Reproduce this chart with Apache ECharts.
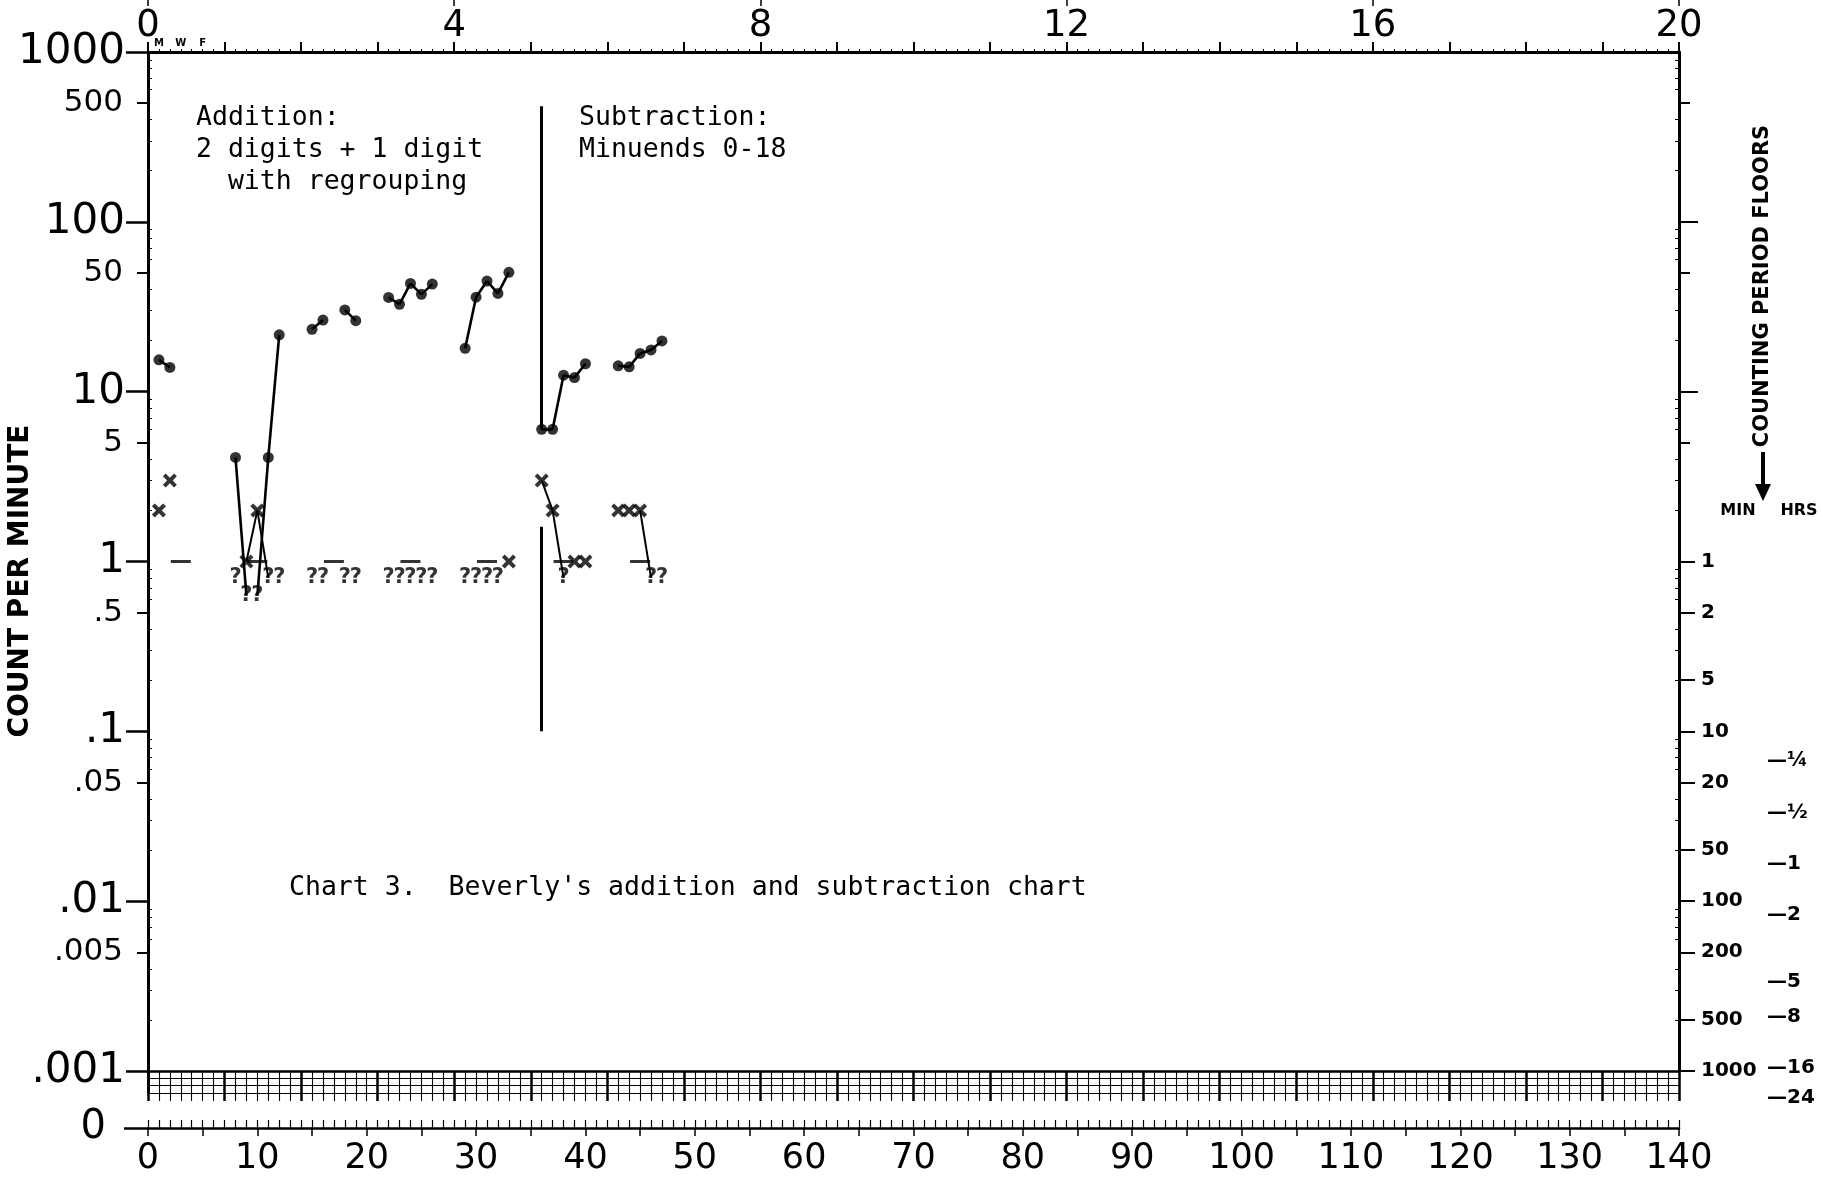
<!DOCTYPE html>
<html><head><meta charset="utf-8">
<script src="https://cdn.jsdelivr.net/npm/echarts@6/dist/echarts.min.js"></script>
<style>html,body{margin:0;padding:0;background:#fff}#c{width:1823px;height:1184px}</style>
</head><body><div id="c"></div><script>
// ---------- DATA ----------
const addDays    = [1, 2, 8, 9, 10, 11, 12, 15, 16, 18, 19, 22, 23, 24, 25, 26, 29, 30, 31, 32, 33];
const addCorrect = [15.4, 13.9, 4.1, 0, 0, 4.1, 21.6, 23.3, 26.4, 30.3, 26.2, 35.9, 32.7, 43.4, 37.4, 43, 18, 36, 44.8, 37.9, 50.4];
const addError   = [2, 3, 0, 1, 2, 0, 0, 0, 0, 0, 0, 0, 0, 0, 0, 0, 0, 0, 0, 0, 1];
const subDays    = [36, 37, 38, 39, 40, 43, 44, 45, 46, 47];
const subCorrect = [6, 6, 12.5, 12.1, 14.6, 14.2, 14, 16.8, 17.6, 19.9];
const subError   = [3, 2, 0, 1, 1, 2, 2, 2, 0, 0];
const errorLinks = [[9, 10], [10, 11], [36, 37], [37, 38], [45, 46]];
const floorDays  = [3, 10, 17, 24, 31, 38, 45];
const floorCount = 1;
const zeroMarkCorrect = 0.63;   // where "?" (zero corrects) is written
const zeroMarkError   = 0.8;    // where "?" (zero errors) is written
const phaseDay   = 36;
const phaseSpans = [[0.1, 1.6], [6, 480]];

// tick labels
const countDecades = [1000, 100, 10, 1, 0.1, 0.01, 0.001];
const countFives   = [500, 50, 5, 0.5, 0.05, 0.005];
const floorMinutes = [1, 2, 5, 10, 20, 50, 100, 200, 500, 1000];
const hourLabels   = ['¼', '½', '1', '2', '5', '8', '16', '24'];
const hourValues   = [0.25, 0.5, 1, 2, 5, 8, 16, 24];
const weekLabels   = [0, 4, 8, 12, 16, 20];
const dayLabels    = [0, 10, 20, 30, 40, 50, 60, 70, 80, 90, 100, 110, 120, 130, 140];
const weekdayDays  = [1, 3, 5];
const weekdayText  = ['M', 'W', 'F'];

// ---------- LAYOUT ----------
const L = 148, R = 1679, T = 52, B = 1071;
const decadePx = (B - T) / 6;
const FONT = 'DejaVu Sans';
const MONO = 'DejaVu Sans Mono';
const K = '#000';

const minorVals = [];
[0.001, 0.01, 0.1, 1, 10, 100].forEach(d => [2, 3, 4, 6, 7, 8, 9].forEach(k => minorVals.push(Math.log10(k * d))));

function fmtCount(v) {
  const n = Number(Math.pow(10, v).toPrecision(1));
  return n >= 1 ? String(n) : String(n).replace(/^0/, '');
}
function ovY(grid, pos, min, max, values, tick, label, lineW) {
  return {
    type: 'value', gridIndex: grid, position: pos, min: min, max: max,
    axisLine: { show: !!lineW, onZero: false, lineStyle: { color: K, width: lineW || 1 } },
    axisTick: { show: !!tick, customValues: values, length: tick ? tick.length : 0, inside: !!(tick && tick.inside),
      lineStyle: { color: K, width: tick ? tick.width : 1 } },
    axisLabel: label ? Object.assign({ show: true, customValues: values, color: K, fontFamily: FONT }, label) : { show: false },
    splitLine: { show: false }
  };
}

// ---------- build marks ----------
const allCorrect = addDays.map((d, i) => [d, addCorrect[i]]).concat(subDays.map((d, i) => [d, subCorrect[i]]));
const allError = addDays.map((d, i) => [d, addError[i]]).concat(subDays.map((d, i) => [d, subError[i]]));
const corrPts = allCorrect.filter(p => p[1] > 0);
const corrZeros = allCorrect.filter(p => p[1] === 0).map(p => [p[0], zeroMarkCorrect]);
const errPts = allError.filter(p => p[1] > 0);
const errZeros = allError.filter(p => p[1] === 0).map(p => [p[0], zeroMarkError]);

const corrLinkData = [];
for (let i = 0; i < allCorrect.length - 1; i++) {
  const a = allCorrect[i], b = allCorrect[i + 1];
  if (b[0] - a[0] === 1 && !(a[1] === 0 && b[1] === 0)) {
    corrLinkData.push({ coords: [[a[0], a[1] || zeroMarkCorrect], [b[0], b[1] || zeroMarkCorrect]] });
  }
}
const errByDay = {}; allError.forEach(p => errByDay[p[0]] = p[1]);
const errLinkData = errorLinks.map(([a, b]) => ({ coords: [[a, errByDay[a] || zeroMarkError], [b, errByDay[b] || zeroMarkError]] }));
const phaseData = phaseSpans.map(s => ({ coords: [[phaseDay, s[0]], [phaseDay, s[1]]] }));
const floorPts = floorDays.map(d => [d, floorCount]);

const X_PATH = 'path://M2,0 L5,3 L8,0 L10,2 L7,5 L10,8 L8,10 L5,7 L2,10 L0,8 L3,5 L0,2 Z';
const qLabel = { show: true, formatter: '?', position: 'inside', fontSize: 21, fontWeight: 'bold', color: K, fontFamily: FONT };

const chart = echarts.init(document.getElementById('c'), null, { renderer: 'canvas' });
chart.setOption({
  animation: false,
  backgroundColor: '#fff',
  grid: [
    { left: L, top: T, width: R - L, height: B - T, containLabel: false, outerBoundsMode: 'none' },
    { left: L, top: T, width: R - L, height: decadePx * 6.5, containLabel: false, outerBoundsMode: 'none' },
    { left: L, top: B, width: R - L, height: 22, containLabel: false, outerBoundsMode: 'none' },
    { left: L, top: 1128, width: R - L, height: 1, containLabel: false, outerBoundsMode: 'none' }
  ],
  xAxis: [
    // 0: days (data) - the .001 line
    { type: 'value', gridIndex: 0, position: 'bottom', min: 0, max: 140,
      axisLine: { show: true, onZero: false, lineStyle: { color: K, width: 2.5 } },
      axisTick: { show: false }, axisLabel: { show: false }, splitLine: { show: false } },
    // 1: weeks on top
    { type: 'value', gridIndex: 0, position: 'top', min: 0, max: 20, interval: 1,
      axisLine: { show: true, onZero: false, lineStyle: { color: K, width: 3 } },
      axisTick: { show: true, length: 10, lineStyle: { color: K, width: 2 } },
      minorTick: { show: true, splitNumber: 7, length: 3, lineStyle: { color: K, width: 1 } },
      axisLabel: { show: true, customValues: weekLabels, fontSize: 37, fontFamily: FONT, color: K, margin: 7 },
      splitLine: { show: false } },
    // 2: small marks at very top
    { type: 'value', gridIndex: 0, position: 'top', offset: 46, min: 0, max: 20,
      axisLine: { show: false, onZero: false },
      axisTick: { show: true, customValues: weekLabels, length: 6, lineStyle: { color: K, width: 1.5 } },
      axisLabel: { show: false }, splitLine: { show: false } },
    // 3: M W F
    { type: 'value', gridIndex: 0, position: 'top', min: 0, max: 140,
      axisLine: { show: false, onZero: false }, axisTick: { show: false },
      axisLabel: { show: true, customValues: weekdayDays, margin: 4, fontSize: 10, fontWeight: 'bold', fontFamily: FONT, color: K,
        formatter: v => weekdayText[weekdayDays.indexOf(Math.round(v))] || '' },
      splitLine: { show: false } },
    // 4: hidden for extended grid
    { type: 'value', gridIndex: 1, min: 0, max: 140, show: false, axisLine: { onZero: false } },
    // 5: band daily grid
    { type: 'value', gridIndex: 2, position: 'bottom', min: 0, max: 140, interval: 1,
      axisLine: { show: false, onZero: false },
      axisTick: { show: true, length: 8, lineStyle: { color: K, width: 1.1 } },
      axisLabel: { show: false },
      splitLine: { show: true, lineStyle: { color: K, width: 1.1 } } },
    // 6: band weekly heavy lines
    { type: 'value', gridIndex: 2, position: 'bottom', min: 0, max: 140, interval: 7,
      axisLine: { show: false, onZero: false },
      axisTick: { show: true, length: 8, lineStyle: { color: K, width: 2.5 } },
      axisLabel: { show: false },
      splitLine: { show: true, lineStyle: { color: K, width: 2.5 } } },
    // 7: zero line with daily ticks upward
    { type: 'value', gridIndex: 3, position: 'top', min: 0, max: 140, interval: 1,
      axisLine: { show: true, onZero: false, lineStyle: { color: K, width: 2.5 } },
      axisTick: { show: true, length: 8, lineStyle: { color: K, width: 1.2 } },
      axisLabel: { show: false }, splitLine: { show: false } },
    // 8: day labels
    { type: 'value', gridIndex: 3, position: 'bottom', min: 0, max: 140, interval: 5,
      axisLine: { show: false, onZero: false },
      axisTick: { show: true, length: 7, lineStyle: { color: K, width: 1.5 } },
      axisLabel: { show: true, customValues: dayLabels, fontSize: 35, fontFamily: FONT, color: K, margin: 12 },
      splitLine: { show: false } }
  ],
  yAxis: [
    // 0: data axis
    { type: 'log', logBase: 10, gridIndex: 0, position: 'left', min: 0.001, max: 1000,
      axisLine: { show: true, onZero: false, lineStyle: { color: K, width: 3 } },
      axisTick: { show: false }, axisLabel: { show: false }, splitLine: { show: false } },
    // 1: decades
    ovY(0, 'left', -3, 3, countDecades.map(Math.log10), { length: 22, width: 2.5 },
      { fontSize: 42, margin: 23, formatter: fmtCount }),
    // 2: fives
    ovY(0, 'left', -3, 3, countFives.map(Math.log10), { length: 11, width: 2 },
      { fontSize: 31, margin: 25, formatter: fmtCount }),
    // 3: minor ticks left
    ovY(0, 'left', -3, 3, minorVals, { length: 4, width: 1, inside: true }, null),
    // 4: counting period floors (min)
    ovY(0, 'right', -3, 3, floorMinutes.map(m => -Math.log10(m)), { length: 16, width: 2 },
      { fontSize: 20, fontWeight: 'bold', margin: 22, formatter: v => String(Math.round(Math.pow(10, -v))) }, 3),
    // 5: right decades
    ovY(0, 'right', -3, 3, [10, 100].map(Math.log10), { length: 19, width: 2 }, null),
    // 6: right fives
    ovY(0, 'right', -3, 3, [5, 50, 500].map(Math.log10), { length: 11, width: 2 }, null),
    // 7: right minors
    ovY(0, 'right', -3, 3, minorVals, { length: 4, width: 1, inside: true }, null),
    // 8: hours (extended grid)
    ovY(1, 'right', -3.5, 3, hourValues.map(h => -Math.log10(h * 60)), null,
      { fontSize: 20, fontWeight: 'bold', margin: 88, align: 'left',
        formatter: v => { const h = Math.pow(10, -v) / 60; let bi = 0;
          hourValues.forEach((x, i) => { if (Math.abs(Math.log(x / h)) < Math.abs(Math.log(hourValues[bi] / h))) bi = i; });
          return '—' + hourLabels[bi]; } }),
    // 9: band rows
    { type: 'value', gridIndex: 2, position: 'left', min: 0, max: 3, interval: 1,
      axisLine: { show: true, onZero: false, lineStyle: { color: K, width: 3 } },
      axisTick: { show: false }, axisLabel: { show: false },
      splitLine: { show: true, lineStyle: { color: K, width: 1.2 } } },
    // 10: zero label
    ovY(3, 'left', -1, 0, [0], { length: 24, width: 2.5 }, { fontSize: 40, margin: 42, formatter: () => '0' })
  ],
  series: [
    { type: 'lines', coordinateSystem: 'cartesian2d', xAxisIndex: 0, yAxisIndex: 0, polyline: false, silent: true,
      data: phaseData, lineStyle: { color: K, width: 3, opacity: 1, curveness: 0 }, z: 2 },
    { type: 'lines', coordinateSystem: 'cartesian2d', xAxisIndex: 0, yAxisIndex: 0, polyline: false, silent: true,
      data: corrLinkData, lineStyle: { color: K, width: 2.6, opacity: 1, curveness: 0 }, z: 3 },
    { type: 'lines', coordinateSystem: 'cartesian2d', xAxisIndex: 0, yAxisIndex: 0, polyline: false, silent: true,
      data: errLinkData, lineStyle: { color: K, width: 2, opacity: 1, curveness: 0 }, z: 3 },
    { type: 'scatter', name: 'Correct', xAxisIndex: 0, yAxisIndex: 0, data: corrPts,
      symbol: 'circle', symbolSize: 11, itemStyle: { color: K }, z: 5 },
    { type: 'scatter', name: 'Error', xAxisIndex: 0, yAxisIndex: 0, data: errPts,
      symbol: X_PATH, symbolSize: 14, itemStyle: { color: K }, z: 5 },
    { type: 'scatter', name: 'Zero correct', xAxisIndex: 0, yAxisIndex: 0, data: corrZeros,
      symbol: 'circle', symbolSize: 1, itemStyle: { color: 'rgba(0,0,0,0)' }, label: qLabel, z: 5 },
    { type: 'scatter', name: 'Zero error', xAxisIndex: 0, yAxisIndex: 0, data: errZeros,
      symbol: 'circle', symbolSize: 1, itemStyle: { color: 'rgba(0,0,0,0)' }, label: qLabel, z: 5 },
    { type: 'scatter', name: 'Record floor', xAxisIndex: 0, yAxisIndex: 0, data: floorPts,
      symbol: 'rect', symbolSize: [20, 3], itemStyle: { color: K }, z: 4 }
  ],
  graphic: [
    { type: 'text', left: 196, top: 102, style: { text: 'Addition:\n2 digits + 1 digit\n  with regrouping', font: '26.5px "' + MONO + '"', lineHeight: 32, fill: K } },
    { type: 'text', left: 579, top: 102, style: { text: 'Subtraction:\nMinuends 0-18', font: '26.5px "' + MONO + '"', lineHeight: 32, fill: K } },
    { type: 'text', left: 289, top: 875, style: { text: "Chart 3.  Beverly's addition and subtraction chart", font: '26.5px "' + MONO + '"', fill: K } },
    { type: 'text', x: 21, y: 581, rotation: Math.PI / 2,
      style: { text: 'COUNT PER MINUTE', font: 'bold 28px "' + FONT + '"', fill: K, align: 'center', verticalAlign: 'middle' } },
    { type: 'text', x: 1763, y: 286, rotation: Math.PI / 2,
      style: { text: 'COUNTING PERIOD FLOORS', font: 'bold 21px "' + FONT + '"', fill: K, align: 'center', verticalAlign: 'middle' } },
    { type: 'line', shape: { x1: 1763, y1: 452, x2: 1763, y2: 490 }, style: { stroke: K, lineWidth: 4 } },
    { type: 'polygon', shape: { points: [[1755, 484], [1771, 484], [1763, 501]] }, style: { fill: K } },
    { type: 'text', x: 1738, y: 511, style: { text: 'MIN', font: 'bold 16px "' + FONT + '"', fill: K, align: 'center', verticalAlign: 'middle' } },
    { type: 'text', x: 1799, y: 511, style: { text: 'HRS', font: 'bold 16px "' + FONT + '"', fill: K, align: 'center', verticalAlign: 'middle' } }
  ]
});
</script></body></html>
